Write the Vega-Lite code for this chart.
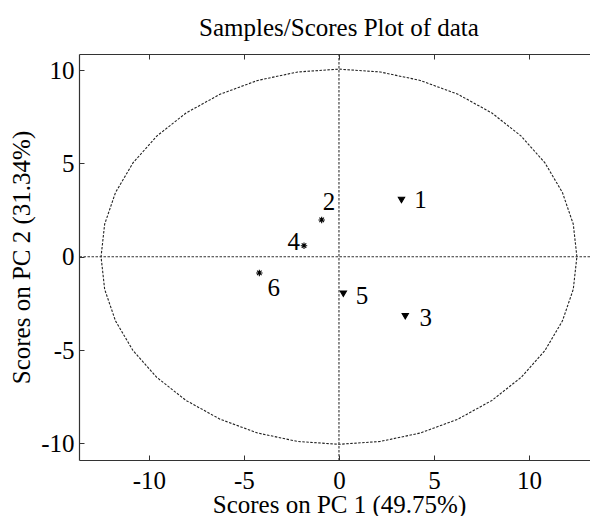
{
  "$schema": "https://vega.github.io/schema/vega-lite/v6.json",
  "width": 511,
  "height": 406,
  "autosize": "none",
  "padding": {"left": 79, "top": 54, "right": 0, "bottom": 56},
  "title": {"text": "Samples/Scores Plot of data", "font": "Liberation Serif", "fontSize": 25, "fontWeight": "normal", "color": "black", "anchor": "middle", "baseline": "alphabetic", "offset": 19, "dx": 4.5, "dy": 27},
  "datasets": {
    "scores": [
      {"id": "1", "x": 3.29, "y": 3.04, "cls": "tri", "lx": 4.29, "ly": 3.03},
      {"id": "2", "x": -0.91, "y": 1.97, "cls": "ast", "lx": -0.52, "ly": 2.94},
      {"id": "3", "x": 3.49, "y": -3.19, "cls": "tri", "lx": 4.57, "ly": -3.28},
      {"id": "4", "x": -1.84, "y": 0.59, "cls": "ast", "lx": -2.38, "ly": 0.81},
      {"id": "5", "x": 0.23, "y": -1.98, "cls": "tri", "lx": 1.21, "ly": -2.12},
      {"id": "6", "x": -4.19, "y": -0.87, "cls": "ast", "lx": -3.43, "ly": -1.65}
    ],
    "ellipse": [
      {"t": 0, "x": 12.52, "y": 0}, {"t": 10, "x": 12.33, "y": 1.745}, {"t": 20, "x": 11.76, "y": 3.437},
      {"t": 30, "x": 10.84, "y": 5.025}, {"t": 40, "x": 9.59, "y": 6.46}, {"t": 50, "x": 8.05, "y": 7.698},
      {"t": 60, "x": 6.26, "y": 8.703}, {"t": 70, "x": 4.28, "y": 9.444}, {"t": 80, "x": 2.17, "y": 9.897},
      {"t": 90, "x": 0, "y": 10.05}, {"t": 100, "x": -2.17, "y": 9.897}, {"t": 110, "x": -4.28, "y": 9.444},
      {"t": 120, "x": -6.26, "y": 8.703}, {"t": 130, "x": -8.05, "y": 7.698}, {"t": 140, "x": -9.59, "y": 6.46},
      {"t": 150, "x": -10.84, "y": 5.025}, {"t": 160, "x": -11.76, "y": 3.437}, {"t": 170, "x": -12.33, "y": 1.745},
      {"t": 180, "x": -12.52, "y": 0}, {"t": 190, "x": -12.33, "y": -1.745}, {"t": 200, "x": -11.76, "y": -3.437},
      {"t": 210, "x": -10.84, "y": -5.025}, {"t": 220, "x": -9.59, "y": -6.46}, {"t": 230, "x": -8.05, "y": -7.698},
      {"t": 240, "x": -6.26, "y": -8.703}, {"t": 250, "x": -4.28, "y": -9.444}, {"t": 260, "x": -2.17, "y": -9.897},
      {"t": 270, "x": 0, "y": -10.05}, {"t": 280, "x": 2.17, "y": -9.897}, {"t": 290, "x": 4.28, "y": -9.444},
      {"t": 300, "x": 6.26, "y": -8.703}, {"t": 310, "x": 8.05, "y": -7.698}, {"t": 320, "x": 9.59, "y": -6.46},
      {"t": 330, "x": 10.84, "y": -5.025}, {"t": 340, "x": 11.76, "y": -3.437}, {"t": 350, "x": 12.33, "y": -1.745},
      {"t": 360, "x": 12.52, "y": 0}
    ],
    "zero": [{"x": 0, "y": 0}]
  },
  "resolve": {"axis": {"x": "independent"}},
  "layer": [
    {
      "data": {"name": "ellipse"},
      "mark": {"type": "line", "strokeDash": [2.5, 1.5], "strokeWidth": 1.1, "color": "#222222"},
      "encoding": {
        "x": {"field": "x", "type": "quantitative", "scale": {"domain": [-13.68, 13.21], "nice": false, "zero": false},
              "axis": {"orient": "top", "labels": false, "title": null, "values": [-10, -5, 0, 5, 10]}},
        "y": {"field": "y", "type": "quantitative", "scale": {"domain": [-10.89, 10.86], "nice": false, "zero": false},
              "title": "Scores on PC 2 (31.34%)", "axis": {"values": [-10, -5, 0, 5, 10]}},
        "order": {"field": "t", "type": "quantitative"}
      }
    },
    {
      "data": {"name": "zero"},
      "mark": {"type": "rule", "strokeDash": [2.5, 1.5], "strokeWidth": 1.1, "color": "#333333"},
      "encoding": {
        "y": {"field": "y", "type": "quantitative", "scale": {"domain": [-10.89, 10.86], "nice": false, "zero": false},
              "title": "Scores on PC 2 (31.34%)", "axis": {"values": [-10, -5, 0, 5, 10]}}
      }
    },
    {
      "data": {"name": "zero"},
      "mark": {"type": "rule", "strokeDash": [2.5, 1.5], "strokeWidth": 1.1, "color": "#333333"},
      "encoding": {
        "x": {"field": "x", "type": "quantitative", "scale": {"domain": [-13.68, 13.21], "nice": false, "zero": false}, "axis": null}
      }
    },
    {
      "data": {"name": "scores"},
      "mark": {"type": "point", "filled": true, "stroke": "black", "strokeWidth": 1.1, "color": "black", "opacity": 1},
      "encoding": {
        "x": {"field": "x", "type": "quantitative", "scale": {"domain": [-13.68, 13.21], "nice": false, "zero": false},
              "axis": {"orient": "bottom", "title": "Scores on PC 1 (49.75%)", "values": [-10, -5, 0, 5, 10], "titleX": 260, "titleY": 52, "titleBaseline": "alphabetic"}},
        "y": {"field": "y", "type": "quantitative", "scale": {"domain": [-10.89, 10.86], "nice": false, "zero": false},
              "title": "Scores on PC 2 (31.34%)", "axis": {"values": [-10, -5, 0, 5, 10]}},
        "shape": {"field": "cls", "type": "nominal", "legend": null,
                  "scale": {"domain": ["tri", "ast"], "range": ["triangle-down", "M -1 0 L 1 0 M 0 -1 L 0 1 M -0.7 -0.7 L 0.7 0.7 M -0.7 0.7 L 0.7 -0.7"]}},
        "size": {"field": "cls", "type": "nominal", "legend": null, "scale": {"domain": ["tri", "ast"], "range": [40, 42]}}
      }
    },
    {
      "data": {"name": "scores"},
      "mark": {"type": "text", "font": "Liberation Serif", "fontSize": 25, "color": "black", "align": "center", "baseline": "middle"},
      "encoding": {
        "x": {"field": "lx", "type": "quantitative", "scale": {"domain": [-13.68, 13.21], "nice": false, "zero": false}, "axis": null},
        "y": {"field": "ly", "type": "quantitative", "scale": {"domain": [-10.89, 10.86], "nice": false, "zero": false},
              "title": "Scores on PC 2 (31.34%)", "axis": {"values": [-10, -5, 0, 5, 10]}},
        "text": {"field": "id"}
      }
    }
  ],
  "config": {
    "view": {"stroke": null},
    "axis": {
      "grid": false,
      "labelFont": "Liberation Serif", "labelFontSize": 25, "labelColor": "black",
      "titleFont": "Liberation Serif", "titleFontSize": 25, "titleFontWeight": "normal", "titleColor": "black",
      "domainColor": "#333333", "domainWidth": 1.2, "tickColor": "#333333", "tickSize": -5, "tickWidth": 1,
      "labelExpr": "'' + datum.value", "labelFlush": false, "labelOverlap": false
    },
    "axisX": {"labelBaseline": "alphabetic", "labelPadding": 33},
    "axisY": {"labelPadding": 10, "titleX": -50, "titleBaseline": "alphabetic", "titleAngle": -90}
  }
}
